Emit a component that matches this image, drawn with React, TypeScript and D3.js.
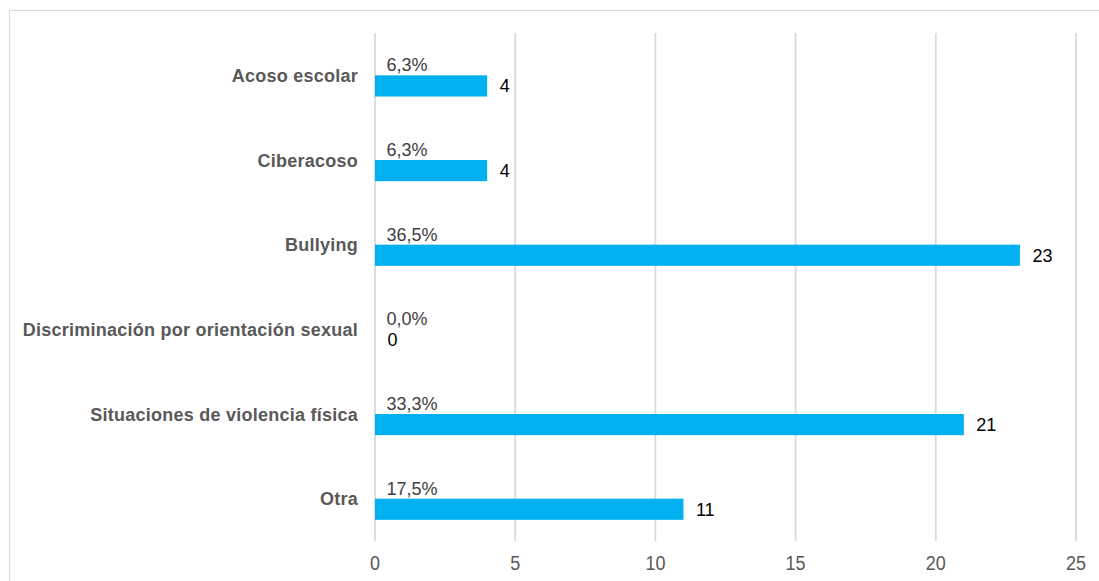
import React from "react";
import * as d3 from "d3";

const categories = [
  "Acoso escolar",
  "Ciberacoso",
  "Bullying",
  "Discriminación por orientación sexual",
  "Situaciones de violencia física",
  "Otra",
];
const counts = [4, 4, 23, 0, 21, 11];
const percentLabels = ["6,3%", "6,3%", "36,5%", "0,0%", "33,3%", "17,5%"];
const xTicks = [0, 5, 10, 15, 20, 25];
const seriesKeys = ["percent", "count"];

const W = 1099;
const H = 581;
const FONT = "Arial, 'Liberation Sans', Helvetica, sans-serif";

export default function App() {
  const x = d3.scaleLinear().domain([0, 25]).range([375, 1076]);
  const y = d3.scaleBand().domain(categories).range([33, 541]).padding(0);
  const bw = y.bandwidth();
  const sub = d3.scaleBand().domain(seriesKeys).range([bw * 0.25, bw * 0.75]).padding(0);
  const sbw = sub.bandwidth();

  return (
    <svg
      width={W}
      height={H}
      style={{ position: "absolute", left: 0, top: 0, display: "block", background: "#fff" }}
      fontFamily={FONT}
    >
      <rect x={9.5} y={10.5} width={W + 10} height={H + 10} fill="#fff" stroke="#d9d9d9" strokeWidth={1} />
      {xTicks.map((t) => (
        <g key={t}>
          <line x1={x(t)} x2={x(t)} y1={33} y2={541} stroke="#d9d9d9" strokeWidth={1.75} />
          <g transform={`translate(${x(t)},563) scale(1,1.12)`}>
            <text x={0} y={0} textAnchor="middle" dominantBaseline="central" fontSize={18} fill="#595959">
              {t}
            </text>
          </g>
        </g>
      ))}
      {categories.map((c, i) => {
        const b0 = y(c)!;
        const pctY = b0 + sub("percent")! + sbw / 2;
        const cntY = b0 + sub("count")! + sbw / 2;
        const barTop = b0 + sub("count")!;
        return (
          <g key={c}>
            <text
              x={358}
              y={b0 + bw / 2 + 0.5}
              textAnchor="end"
              dominantBaseline="central"
              fontSize={18}
              fontWeight="bold"
              fill="#595959"
              letterSpacing={0.25}
            >
              {c}
            </text>
            <rect x={x(0)} y={barTop} width={x(counts[i]) - x(0)} height={sbw} fill="#00B0F0" />
            <text x={x(0) + 11.5} y={pctY + 0.5} dominantBaseline="central" fontSize={18} fill="#404040">
              {percentLabels[i]}
            </text>
            <text x={x(counts[i]) + 12.5} y={cntY + 0.5} dominantBaseline="central" fontSize={18} fill="#000">
              {counts[i]}
            </text>
          </g>
        );
      })}
    </svg>
  );
}
